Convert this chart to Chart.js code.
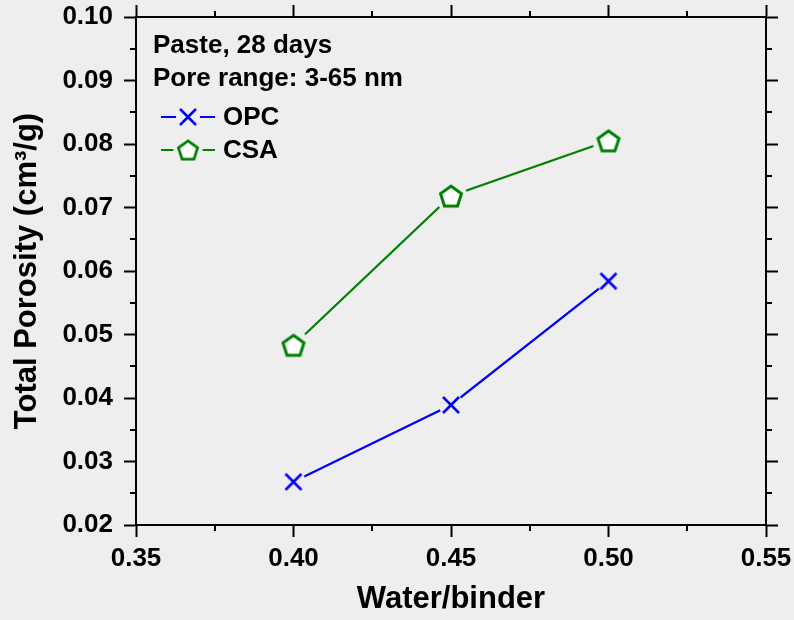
<!DOCTYPE html>
<html>
<head>
<meta charset="utf-8">
<title>Total porosity vs water/binder</title>
<script src="https://cdn.jsdelivr.net/npm/chart.js@4.4.1/dist/chart.umd.min.js"></script>
<style>
  html, body { margin: 0; padding: 0; background: #eeeeee; }
  canvas { display: block; }
</style>
</head>
<body>
<canvas id="porosity-chart" width="794" height="620"></canvas>
<script>
// data
const waterBinder = [0.40, 0.45, 0.50];
const opcPorosity = [0.0268, 0.0389, 0.0584];
const csaPorosity = [0.0483, 0.0718, 0.0805];
const xTicks = [0.35, 0.40, 0.45, 0.50, 0.55];
const yTicks = [0.02, 0.03, 0.04, 0.05, 0.06, 0.07, 0.08, 0.09, 0.10];
const seriesNames = ['OPC', 'CSA'];
const noteLines = ['Paste, 28 days', 'Pore range: 3-65 nm'];

const BG = '#eeeeee';
const FONT = '"Liberation Sans", Arial, sans-serif';
const BLUE = '#0000ff';
const GREEN = '#008000';

// marker images; the bg-coloured disc leaves a gap between line and marker
function makeMarker(kind, color) {
    const size = kind === 'x' ? 28 : 34;
    const knockout = kind === 'x' ? 12 : 16;
    const c = document.createElement('canvas');
    c.width = c.height = size;
    const g = c.getContext('2d');
    const m = size / 2;
    g.fillStyle = BG;
    g.beginPath();
    g.arc(m, m, knockout, 0, Math.PI * 2);
    g.fill();
    g.strokeStyle = color;
    if (kind === 'x') {
        g.lineWidth = 2.5;
        g.beginPath();
        g.moveTo(m - 8, m - 8); g.lineTo(m + 8, m + 8);
        g.moveTo(m + 8, m - 8); g.lineTo(m - 8, m + 8);
        g.stroke();
    } else {
        const r = 11;
        g.lineWidth = 3;
        g.fillStyle = '#ffffff';
        g.beginPath();
        for (let i = 0; i < 5; i++) {
            const a = -Math.PI / 2 + i * 2 * Math.PI / 5;
            const px = m + r * Math.cos(a), py = m + 1 + r * Math.sin(a);
            if (i === 0) g.moveTo(px, py); else g.lineTo(px, py);
        }
        g.closePath();
        g.fill();
        g.stroke();
    }
    return c;
}

const opcMarker = makeMarker('x', BLUE);
const csaMarker = makeMarker('pentagon', GREEN);

function midpoints(arr) {
    const out = [];
    for (let i = 0; i < arr.length - 1; i++) out.push((arr[i] + arr[i + 1]) / 2);
    return out;
}

// minor ticks, text notes and the legend
const extras = {
    id: 'extras',
    afterDraw(chart) {
        const ctx = chart.ctx;
        const xs = chart.scales.x, ys = chart.scales.y;
        const area = chart.chartArea;
        ctx.save();

        ctx.strokeStyle = '#000';
        ctx.lineWidth = 2;
        ctx.beginPath();
        midpoints(xTicks).forEach(v => {
            const px = Math.round(xs.getPixelForValue(v));
            ctx.moveTo(px, area.bottom); ctx.lineTo(px, area.bottom + 6);
            ctx.moveTo(px, area.top); ctx.lineTo(px, area.top - 6);
        });
        midpoints(yTicks).forEach(v => {
            const py = Math.round(ys.getPixelForValue(v));
            ctx.moveTo(area.left, py); ctx.lineTo(area.left - 6, py);
            ctx.moveTo(area.right, py); ctx.lineTo(area.right + 6, py);
        });
        ctx.stroke();

        ctx.font = 'bold 26px ' + FONT;
        ctx.fillStyle = '#000';
        ctx.textBaseline = 'alphabetic';
        ctx.textAlign = 'left';
        const tx = area.left + 17;
        ctx.fillText(noteLines[0], tx, area.top + 36);
        ctx.fillText(noteLines[1], tx, area.top + 69);

        // legend rows: line - marker - line, then label
        const rows = [
            { name: seriesNames[0], color: BLUE, marker: opcMarker, y: area.top + 100, scale: 1 },
            { name: seriesNames[1], color: GREEN, marker: csaMarker, y: area.top + 133, scale: 22 / 24 }
        ];
        rows.forEach(row => {
            ctx.strokeStyle = row.color;
            ctx.lineWidth = 2;
            ctx.beginPath();
            ctx.moveTo(area.left + 25, row.y);
            ctx.lineTo(area.left + 79, row.y);
            ctx.stroke();
            const w = row.marker.width * row.scale;
            ctx.drawImage(row.marker, area.left + 52 - w / 2, row.y - w / 2, w, w);
            ctx.fillStyle = '#000';
            ctx.fillText(row.name, area.left + 87, row.y + 8);
        });

        ctx.restore();
    }
};

const tickGrid = {
    drawOnChartArea: false,
    tickLength: 12,
    tickWidth: 2,
    tickColor: '#000'
};
const axisBorder = { color: '#000', width: 2 };

// keep tick labels from pushing the plot area around
function noOverflow(s) {
    s.paddingTop = 0; s.paddingBottom = 0;
    s.paddingLeft = 0; s.paddingRight = 0;
}

new Chart(document.getElementById('porosity-chart'), {
    type: 'line',
    data: {
        datasets: [
            {
                label: seriesNames[0],
                data: waterBinder.map((x, i) => ({ x: x, y: opcPorosity[i] })),
                borderColor: BLUE,
                backgroundColor: BLUE,
                borderWidth: 2.2,
                pointStyle: opcMarker,
                pointRadius: 12,
                tension: 0,
                fill: false
            },
            {
                label: seriesNames[1],
                data: waterBinder.map((x, i) => ({ x: x, y: csaPorosity[i] })),
                borderColor: GREEN,
                backgroundColor: GREEN,
                borderWidth: 2.2,
                pointStyle: csaMarker,
                pointRadius: 12,
                tension: 0,
                fill: false
            }
        ]
    },
    options: {
        responsive: false,
        animation: false,
        events: [],
        layout: { padding: { left: 0, right: 16, top: 5, bottom: 0 } },
        plugins: {
            legend: { display: false },
            tooltip: { enabled: false }
        },
        scales: {
            x: {
                type: 'linear',
                position: 'bottom',
                min: 0.35,
                max: 0.55,
                afterBuildTicks: s => { s.ticks = xTicks.map(v => ({ value: v })); },
                ticks: {
                    padding: 6,
                    color: '#000',
                    maxRotation: 0,
                    font: { family: FONT, size: 26, weight: 'bold' },
                    callback: v => v.toFixed(2)
                },
                grid: tickGrid,
                border: axisBorder,
                title: {
                    display: true,
                    text: 'Water/binder',
                    color: '#000',
                    font: { family: FONT, size: 31, weight: 'bold', lineHeight: 1 },
                    padding: { top: 0, bottom: 5 }
                },
                afterFit: s => { s.height = 95; noOverflow(s); }
            },
            x2: {
                type: 'linear',
                position: 'top',
                min: 0.35,
                max: 0.55,
                afterBuildTicks: s => { s.ticks = xTicks.map(v => ({ value: v })); },
                ticks: { display: false },
                grid: tickGrid,
                border: axisBorder,
                afterFit: s => { s.height = 12; noOverflow(s); }
            },
            y: {
                type: 'linear',
                position: 'left',
                min: 0.02,
                max: 0.10,
                afterBuildTicks: s => { s.ticks = yTicks.map(v => ({ value: v })); },
                ticks: {
                    padding: 11,
                    color: '#000',
                    font: { family: FONT, size: 26, weight: 'bold' },
                    callback: v => v.toFixed(2)
                },
                grid: tickGrid,
                border: axisBorder,
                title: {
                    display: true,
                    text: 'Total Porosity (cm\u00b3/g)',
                    color: '#000',
                    font: { family: FONT, size: 31, weight: 'bold', lineHeight: 1 },
                    padding: { top: 12, bottom: 0 }
                },
                afterFit: s => { s.width = 136; noOverflow(s); }
            },
            y2: {
                type: 'linear',
                position: 'right',
                min: 0.02,
                max: 0.10,
                afterBuildTicks: s => { s.ticks = yTicks.map(v => ({ value: v })); },
                ticks: { display: false },
                grid: tickGrid,
                border: axisBorder,
                afterFit: s => { s.width = 12; noOverflow(s); }
            }
        }
    },
    plugins: [extras]
});
</script>
</body>
</html>
